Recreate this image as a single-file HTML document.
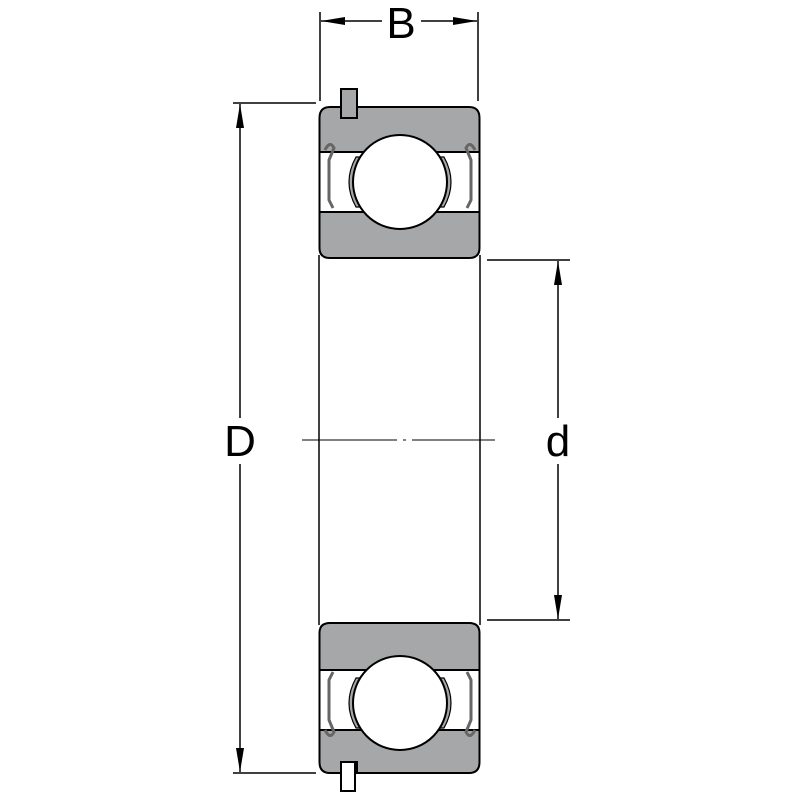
<!DOCTYPE html>
<html><head><style>body{margin:0;background:#fff}svg{display:block}</style></head><body>
<svg width="800" height="800" viewBox="0 0 800 800" xmlns="http://www.w3.org/2000/svg">
<defs>
<marker id="a" markerWidth="24" markerHeight="10" refX="24" refY="5" orient="auto" markerUnits="userSpaceOnUse"><path d="M0,1 L24,5 L0,9 Z" fill="#000"/></marker>
</defs>
<g stroke="#000" stroke-width="1.5" fill="none">
<line x1="320" y1="12" x2="320" y2="101"/>
<line x1="478" y1="12" x2="478" y2="101"/>
<line x1="382" y1="21" x2="321" y2="21" marker-end="url(#a)"/>
<line x1="421" y1="21" x2="477" y2="21" marker-end="url(#a)"/>
<line x1="233" y1="103" x2="316" y2="103"/>
<line x1="233" y1="773" x2="316" y2="773"/>
<line x1="240" y1="418" x2="240" y2="104" marker-end="url(#a)"/>
<line x1="240" y1="464" x2="240" y2="772" marker-end="url(#a)"/>
<line x1="487" y1="260" x2="570" y2="260"/>
<line x1="487" y1="620" x2="570" y2="620"/>
<line x1="558" y1="418" x2="558" y2="261" marker-end="url(#a)"/>
<line x1="558" y1="464" x2="558" y2="619" marker-end="url(#a)"/>
<line x1="319" y1="255" x2="319" y2="625"/>
<line x1="480" y1="255" x2="480" y2="625"/>
<line x1="302" y1="440" x2="495" y2="440" stroke-width="1" stroke-dasharray="95,6,3,6"/>
</g>
<g stroke="#000" stroke-width="2">
<rect x="319.5" y="152" width="160" height="60" fill="#fff"/>
<path d="M319.5,152 V118 Q319.5,107 330,107 H341 V118 H357 V107 H469 Q479.5,107 479.5,118 V152 Z" fill="#a6a7a9"/>
<rect x="341" y="89" width="16" height="29" fill="#a6a7a9"/>
<path d="M319.5,212 H479.5 V248 Q479.5,258 469,258 H330 Q319.5,258 319.5,248 Z" fill="#a6a7a9"/>
<path d="M356,157 Q342,182 356,207 L362,207 Q349,182 362,157 Z M444,157 Q458,182 444,207 L438,207 Q451,182 438,157 Z" fill="#a6a7a9" stroke-width="1.2"/>
<path d="M325,150 Q330,140 334,148 L329,160 V200 L333,208" fill="none" stroke="#666" stroke-width="3"/>
<path d="M475,150 Q470,140 466,148 L471,160 V200 L467,208" fill="none" stroke="#666" stroke-width="3"/>
<circle cx="400" cy="182" r="47" fill="#fff"/>
<rect x="319.5" y="670" width="160" height="60" fill="#fff"/>
<path d="M319.5,670 H479.5 V633 Q479.5,623 469,623 H330 Q319.5,623 319.5,633 Z" fill="#a6a7a9"/>
<path d="M319.5,730 V762 Q319.5,773 330,773 H341 V762 H357 V773 H469 Q479.5,773 479.5,762 V730 Z" fill="#a6a7a9"/>
<rect x="341" y="762" width="14" height="29" fill="#fff"/>
<path d="M356,678 Q342,703 356,728 L362,728 Q349,703 362,678 Z M444,678 Q458,703 444,728 L438,728 Q451,703 438,678 Z" fill="#a6a7a9" stroke-width="1.2"/>
<path d="M333,672 L329,680 V720 L334,732 Q330,740 325,730" fill="none" stroke="#666" stroke-width="3"/>
<path d="M467,672 L471,680 V720 L466,732 Q470,740 475,730" fill="none" stroke="#666" stroke-width="3"/>
<circle cx="400" cy="703" r="47" fill="#fff"/>
</g>
<g font-family="Liberation Sans, sans-serif" font-size="44" fill="#000" text-anchor="middle">
<text x="401" y="38">B</text>
<text x="240" y="456">D</text>
<text x="558" y="456">d</text>
</g>
</svg>
</body></html>
